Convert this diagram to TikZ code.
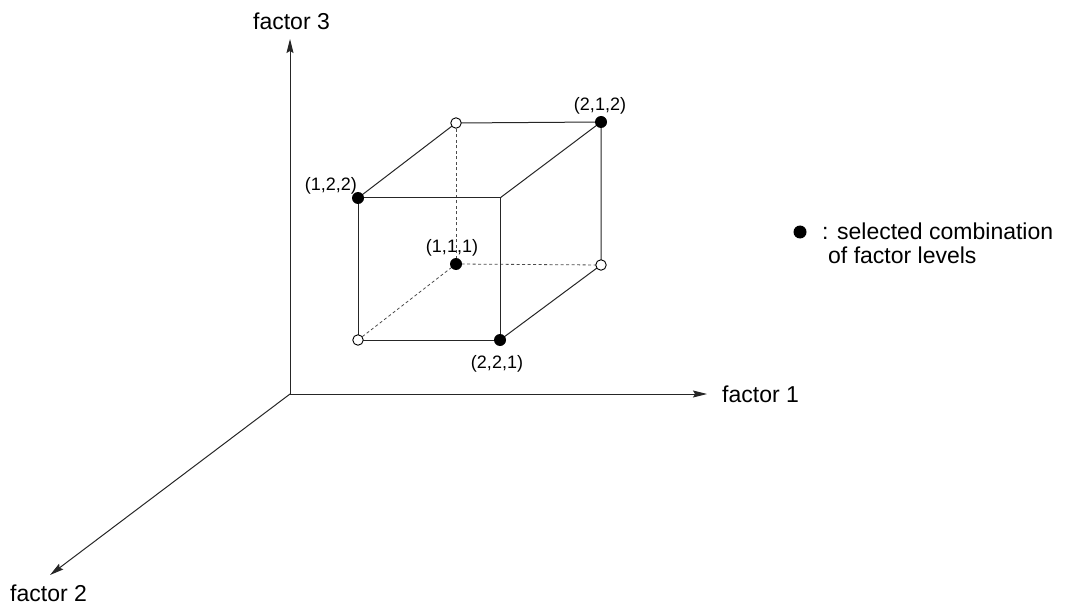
\documentclass[tikz,border=0pt]{standalone}
\usepackage{fontspec}
\setmainfont{Liberation Sans}
\usetikzlibrary{arrows.meta}
\begin{document}
\begin{tikzpicture}[x=1pt,y=-1pt,
  edge/.style={line width=1pt,draw=black!85},
  hidden/.style={line width=0.8pt,draw=black!70,dash pattern=on 3pt off 2.5pt},
  axis/.style={line width=1pt,draw=black!85,-{Stealth[length=14pt,width=7pt,inset=2pt]}},
  sel/.style={circle,fill=black,inner sep=0pt,minimum size=12pt},
  unsel/.style={circle,draw=black,fill=white,line width=0.9pt,inner sep=0pt,minimum size=10.5pt},
  big/.style={font=\fontsize{23}{27}\selectfont,inner sep=0pt},
  small/.style={font=\fontsize{18}{21}\selectfont,inner sep=0pt}]
\useasboundingbox (0,0) rectangle (1068,604);
% axes
\coordinate (O) at (290,394);
\coordinate (X1) at (707,394);
\coordinate (X3) at (290,39);
\coordinate (X2) at (50,575);
\draw[axis] (O) -- (X1);
\draw[axis] (O) -- (X3);
\draw[axis] (O) -- (X2);
\node[big,anchor=base] (f3) at (291.5,30) {factor 3};
\node[big,anchor=base west] (f1) at (722,402) {factor 1};
\node[big,anchor=base west] (f2) at (10,601) {factor 2};
% cube corners
\coordinate (A) at (358,198);  % (1,2,2)
\coordinate (B) at (500,198);
\coordinate (C) at (358,340);
\coordinate (D) at (500,340);  % (2,2,1)
\coordinate (E) at (456,123);
\coordinate (F) at (601,122);  % (2,1,2)
\coordinate (G) at (456,264);  % (1,1,1)
\coordinate (H) at (601,265);
% hidden edges
\draw[hidden] (G) -- (E);
\draw[hidden] (G) -- (H);
\draw[hidden] (G) -- (C);
% visible edges
\draw[edge] (A) -- (B) -- (D) -- (C) -- cycle;
\draw[edge] (A) -- (E) -- (F) -- (B);
\draw[edge] (F) -- (H) -- (D);
% markers
\node[sel] (n122) at (A) {};
\node[sel] (n221) at (D) {};
\node[sel] (n212) at (F) {};
\node[sel] (n111) at (G) {};
\node[unsel] (o1) at (E) {};
\node[unsel] (o2) at (H) {};
\node[unsel] (o3) at (C) {};
% labels
\node[small,anchor=base] (l212) at (600,111) {(2,1,2)};
\node[small,anchor=base east] (l122) at (357,191) {(1,2,2)};
\node[small,anchor=base] (l111) at (452,252) {(1,1,1)};
\node[small,anchor=base] (l221) at (497,368) {(2,2,1)};
% legend
\node[sel,minimum size=13pt] (leg) at (800,232) {};
\node[big,anchor=base west] (legtxt) at (822,240) {: selected combination};
\node[big,anchor=base west] (legtxt2) at (828,263) {of factor levels};
\end{tikzpicture}
\end{document}
